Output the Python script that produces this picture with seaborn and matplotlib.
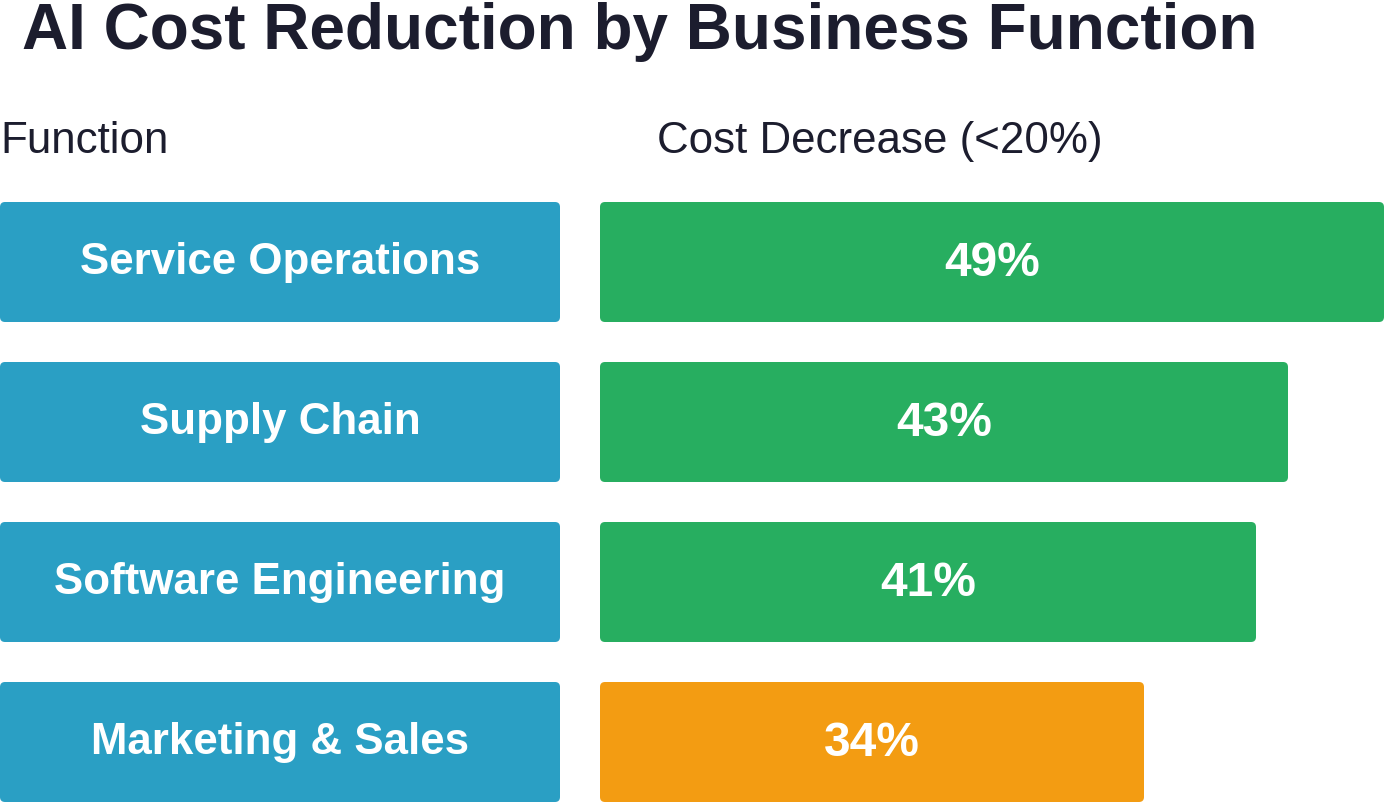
import matplotlib.pyplot as plt
import pandas as pd
import seaborn as sns
from matplotlib.patches import FancyBboxPatch

functions = ['Service Operations', 'Supply Chain', 'Software Engineering', 'Marketing & Sales']
cost_decrease = [49, 43, 41, 34]
bar_colors = ['#27AE60', '#27AE60', '#27AE60', '#F39C12']
label_color = '#2A9FC4'
title = 'AI Cost Reduction by Business Function'
headers = ['Function', 'Cost Decrease (<20%)']

W, H = 1384, 802
TEXT = '#1C1D2E'


def round_bars(ax, radius_px=5):
    # swap seaborn's square rectangles for rounded ones with the same geometry
    fig = ax.figure
    fig.canvas.draw()
    x0, y0 = ax.transData.transform((0, 0))
    x1, y1 = ax.transData.transform((1, 1))
    xu = 1 / abs(x1 - x0)
    yu = 1 / abs(y1 - y0)
    for p in list(ax.patches):
        x, y = p.get_x(), p.get_y()
        w, h = p.get_width(), p.get_height()
        fc = p.get_facecolor()
        p.remove()
        ax.add_patch(FancyBboxPatch((x, y), w, h,
                                    boxstyle=f'round,pad=0,rounding_size={radius_px * xu}',
                                    mutation_aspect=yu / xu, facecolor=fc,
                                    edgecolor='none', clip_on=False))


sns.set_theme(style='white')
plt.rcParams['font.family'] = ['Liberation Sans', 'DejaVu Sans']

df = pd.DataFrame({'function': functions, 'decrease': cost_decrease, 'box': 1})

fig = plt.figure(figsize=(W / 100, H / 100), dpi=100)
ax_l = fig.add_axes([0, 0, 560 / W, 600 / H])
ax_r = fig.add_axes([600 / W, 0, 784 / W, 600 / H])

sns.barplot(data=df, x='box', y='function', color=label_color, saturation=1,
            width=0.75, ax=ax_l)
sns.barplot(data=df, x='decrease', y='function', hue='function',
            palette=bar_colors, saturation=1, width=0.75, legend=False, ax=ax_r)

ax_l.set_xlim(0, 1)
ax_r.set_xlim(0, max(cost_decrease))
for ax in (ax_l, ax_r):
    ax.set_ylim(len(functions) - 0.625, -0.375)
    ax.axis('off')

shift = 0.025  # nudge labels up a few pixels
for i, name in enumerate(functions):
    ax_l.text(0.5, i - shift, name, ha='center', va='center_baseline', color='white',
              fontsize=31.6, fontweight='bold')
for i, v in enumerate(cost_decrease):
    ax_r.text(v / 2, i - shift, f'{v}%', ha='center', va='center_baseline', color='white',
              fontsize=34.5, fontweight='bold')

round_bars(ax_l)
round_bars(ax_r)

fig.text(22 / W, 1 - 49 / H, title, ha='left', va='baseline', color=TEXT,
         fontsize=46, fontweight='bold')
fig.text(0, 1 - 153 / H, headers[0], ha='left', va='baseline', color=TEXT, fontsize=31.6)
fig.text(657 / W, 1 - 153 / H, headers[1], ha='left', va='baseline', color=TEXT, fontsize=31.6)

fig.savefig('out.png', dpi=100, facecolor='white')
